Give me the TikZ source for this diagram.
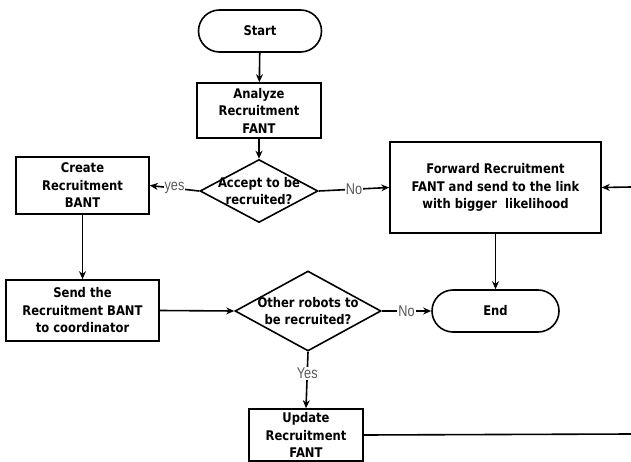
\documentclass[tikz,border=0pt]{standalone}
\usepackage{fontspec}
\setmainfont{DejaVu Sans}[FakeStretch=0.87]
\newfontfamily\lblfont{Liberation Sans}[FakeStretch=0.82]
\usetikzlibrary{shapes.geometric,shapes.misc,arrows.meta}
\begin{document}
\begin{tikzpicture}[x=1pt,y=-1pt,
  base/.style={draw,line width=1.6pt,font=\fontsize{13.3}{17.5}\selectfont\bfseries,align=center,inner sep=0pt},
  procbox/.style={base,rectangle},
  term/.style={base,rounded rectangle},
  dec/.style={draw,line width=1.6pt,diamond,inner sep=0pt},
  dectext/.style={font=\fontsize{13.3}{17.5}\selectfont\bfseries,align=center,inner sep=0pt},
  arr/.style={line width=1.6pt,-{Stealth[length=8pt,width=7pt]}},
  ln/.style={line width=1.6pt},
  lbl/.style={font=\lblfont\fontsize{15.5}{17}\selectfont,text=black!65,fill=white,inner sep=1pt}
]
\useasboundingbox (0,0) rectangle (631,462);
\node[term,minimum width=123pt,minimum height=42pt] (start) at (260,31) {Start};
\node[procbox,minimum width=124pt,minimum height=55pt] (ana) at (259,110.5) {Analyze\\Recruitment\\FANT};
\node[dec,minimum width=118pt,minimum height=63pt] (acc) at (259,191) {};
\node[dectext] (acct) at (acc.center) {Accept to be\\recruited?};
\node[procbox,minimum width=133pt,minimum height=57pt] (create) at (82.5,185.5) {Create\\Recruitment\\BANT};
\node[procbox,minimum width=211pt,minimum height=91pt] (fwd) at (495.5,187.5) {Forward Recruitment\\FANT and send to the link\\with bigger\ \ likelihood};
\node[term,minimum width=127pt,minimum height=42pt] (end) at (495.5,311) {End};
\node[procbox,minimum width=153pt,minimum height=61pt] (send) at (82.5,310.5) {Send the\\Recruitment BANT\\to coordinator};
\node[dec,minimum width=146pt,minimum height=80pt] (oth) at (308,311) {};
\node[dectext] (otht) at (oth.center) {Other robots to\\be recruited?};
\node[procbox,minimum width=114pt,minimum height=52pt] (upd) at (306,435) {Update\\Recruitment\\FANT};
\coordinate (rin) at (631,187);
\coordinate (rout) at (631,434);

\draw[arr] (start) -- (ana);
\draw[arr] (ana) -- (acc.north);
\draw[arr] (acc.west) -- node[lbl] (yes1) {yes} (create.east);
\draw[arr] (acc.east) -- node[lbl] (no1) {No} (fwd.west);
\draw[arr] (rin) -- (fwd.east);
\draw[arr] (fwd.south) -- (end.north);
\draw[arr] (create.south) -- (send.north);
\draw[arr] (send.east) -- (oth.west);
\draw[arr] (oth.east) -- node[lbl] (no2) {No} (end.west);
\draw[arr] (oth.south) -- node[lbl,pos=0.38] (yes2) {Yes} (upd.north);
\draw[ln] (upd.east) -- (rout);
\end{tikzpicture}
\end{document}
